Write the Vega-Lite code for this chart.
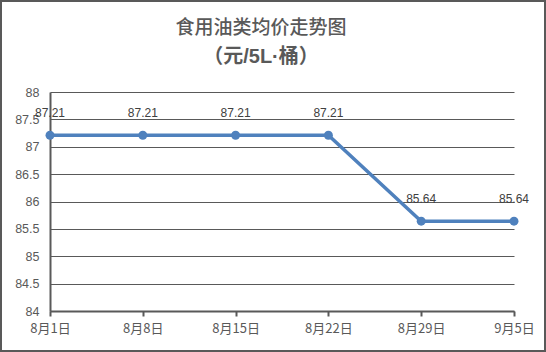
{
  "$schema": "https://vega.github.io/schema/vega-lite/v6.json",
  "width": 546,
  "height": 352,
  "autosize": "none",
  "padding": 0,
  "background": "white",
  "title": {
    "text": "食用油类均价走势图",
    "subtitle": "（元/5L·桶）",
    "anchor": "middle",
    "frame": "group",
    "offset": -67,
    "dx": -12,
    "fontSize": 19,
    "font": "Noto Sans CJK SC",
    "fontWeight": 500,
    "color": "#595959",
    "subtitleFont": "Liberation Sans, Noto Sans CJK SC",
    "subtitleFontSize": 20,
    "subtitleFontWeight": "bold",
    "subtitleColor": "#595959",
    "subtitlePadding": 9
  },
  "data": {
    "values": [
      {"date": "8月1日", "price": 87.21},
      {"date": "8月8日", "price": 87.21},
      {"date": "8月15日", "price": 87.21},
      {"date": "8月22日", "price": 87.21},
      {"date": "8月29日", "price": 85.64},
      {"date": "9月5日", "price": 85.64}
    ]
  },
  "encoding": {
    "x": {
      "field": "date",
      "type": "ordinal",
      "sort": null,
      "scale": {"type": "point", "padding": 0, "range": [50, 514]},
      "axis": {
        "title": null,
        "offset": -41,
        "labelAngle": 0,
        "grid": false,
        "domainColor": "#595959",
        "domainWidth": 2,
        "tickColor": "#595959",
        "tickWidth": 2,
        "tickSize": 5,
        "labelFont": "Noto Sans CJK SC",
        "labelFontSize": 13,
        "labelColor": "#595959",
        "labelPadding": 6
      }
    },
    "y": {
      "field": "price",
      "type": "quantitative",
      "scale": {"domain": [84, 88], "range": [311, 92], "nice": false, "zero": false},
      "axis": {
        "title": null,
        "offset": -50,
        "values": [84, 84.5, 85, 85.5, 86, 86.5, 87, 87.5, 88],
        "format": ".1~f",
        "grid": true,
        "gridColor": "#595959",
        "gridWidth": 1,
        "ticks": false,
        "domainColor": "#595959",
        "domainWidth": 2,
        "labelPadding": 11,
        "labelFont": "Liberation Sans",
        "labelFontSize": 12.5,
        "labelColor": "#595959"
      }
    }
  },
  "layer": [
    {"mark": {"type": "line", "color": "#4f81bd", "strokeWidth": 3.5}},
    {"mark": {"type": "point", "filled": true, "size": 80, "color": "#4f81bd", "opacity": 1}},
    {
      "mark": {"type": "text", "dy": -22, "fontSize": 12, "font": "Liberation Sans", "color": "#404040"},
      "encoding": {"text": {"field": "price", "type": "quantitative", "format": ".2f"}}
    }
  ],
  "config": {"view": {"stroke": "#595959", "strokeWidth": 4}}
}
